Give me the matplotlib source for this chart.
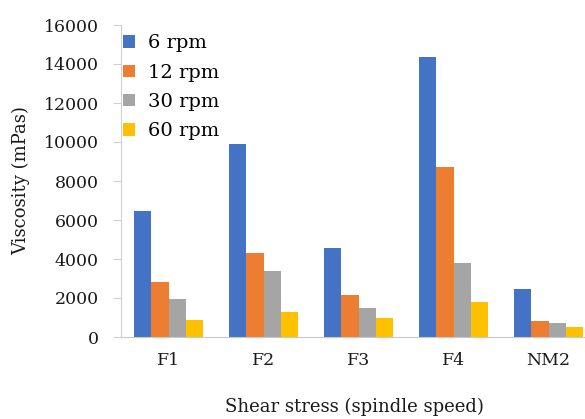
import matplotlib.pyplot as plt
import numpy as np

plt.rcParams['font.family'] = ['DejaVu Serif']
plt.rcParams['font.size'] = 12.5

# --- data ---
samples = ['F1', 'F2', 'F3', 'F4', 'NM2']
speeds = ['6 rpm', '12 rpm', '30 rpm', '60 rpm']
visc_6 = [6460, 9900, 4540, 14360, 2450]
visc_12 = [2830, 4330, 2160, 8730, 810]
visc_30 = [1970, 3360, 1490, 3800, 720]
visc_60 = [890, 1280, 1000, 1820, 500]
colors = ['#4472C4', '#ED7D31', '#A5A5A5', '#FFC000']

fig = plt.figure(figsize=(5.85, 4.19), dpi=100)
# axes run past the right edge, as in the cropped original
ax = fig.add_axes([121 / 585, 82 / 419, 475 / 585, 312 / 419])

x = np.arange(len(samples))
w = 0.18
for i, (vals, lab, c) in enumerate(zip([visc_6, visc_12, visc_30, visc_60], speeds, colors)):
    ax.bar(x + (i - 1.5) * w, vals, w, color=c, label=lab)

ax.set_xlim(-0.5, 4.5)
ax.set_ylim(0, 16000)
ax.set_yticks(np.arange(0, 16001, 2000))
ax.set_xticks(x)
ax.set_xticklabels(samples)

for s in ['top', 'right']:
    ax.spines[s].set_visible(False)
ax.spines['left'].set_color('#D0D0D0')
ax.spines['bottom'].set_color('#C8C8C8')
ax.tick_params(axis='y', length=6, color='#D0D0D0', pad=10, labelcolor='#1a1a1a')
ax.tick_params(axis='x', length=0, pad=11, labelcolor='#1a1a1a')

ax.set_ylabel('Viscosity (mPas)', fontsize=13, color='#1a1a1a', labelpad=10)
ax.set_xlabel('Shear stress (spindle speed)', fontsize=13, color='#1a1a1a')
ax.xaxis.set_label_coords((354 - 121) / 475, -61 / 312)

ax.legend(loc='upper left', bbox_to_anchor=(-0.02, 1.007), frameon=False,
          fontsize=14, handlelength=0.6, handleheight=0.6, handletextpad=0.7,
          labelspacing=0.58, borderaxespad=0.2)

fig.savefig('out.png', dpi=100)
